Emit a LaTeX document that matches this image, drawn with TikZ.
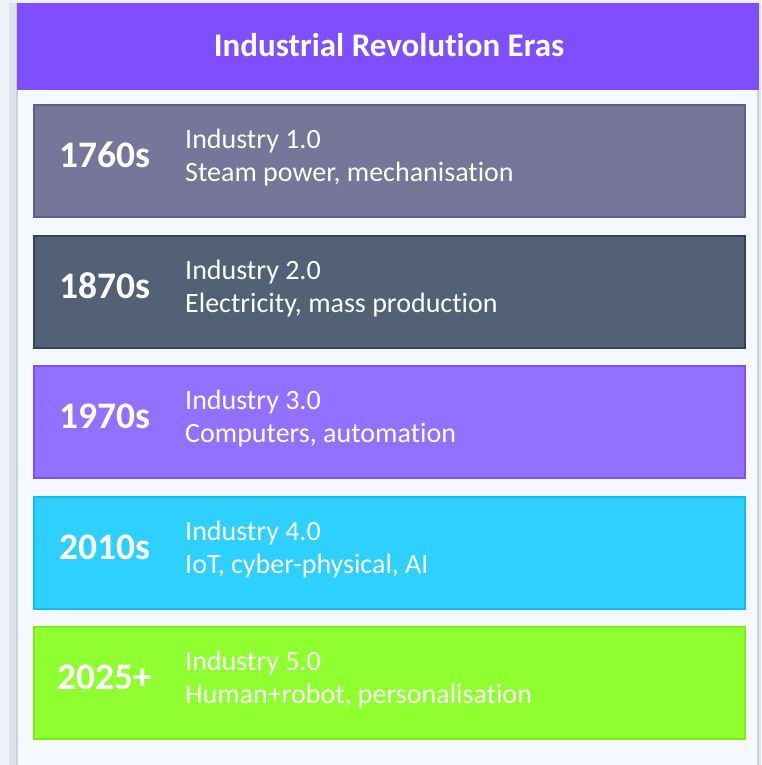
\documentclass[tikz,border=0pt]{standalone}
\usepackage{fontspec}
\setmainfont{Carlito}[Ligatures=NoCommon]
\definecolor{shadowA}{HTML}{EEF1F8}
\definecolor{shadowB}{HTML}{DDE2EE}
\definecolor{panelline}{HTML}{C8D0E2}
\definecolor{panelbg}{HTML}{F5F8FF}
\definecolor{headbg}{HTML}{7F4FFF}
\definecolor{fillA}{HTML}{77759A}\definecolor{lineA}{HTML}{5F5D8A}
\definecolor{fillB}{HTML}{526175}\definecolor{lineB}{HTML}{344458}
\definecolor{fillC}{HTML}{9370FF}\definecolor{lineC}{HTML}{7F4FFF}
\definecolor{fillD}{HTML}{2DD0FF}\definecolor{lineD}{HTML}{10BFF0}
\definecolor{fillE}{HTML}{8FFF2F}\definecolor{lineE}{HTML}{78F010}
\tikzset{
  erabox/.style={draw=#1, line width=2pt, minimum width=711pt, minimum height=112pt, anchor=north west, inner sep=0pt},
  yeartext/.style={text=white, font=\fontsize{37.5}{42}\selectfont\bfseries, anchor=center},
  desctext/.style={text=white, font=\fontsize{28}{33}\selectfont, anchor=west, align=left, inner sep=0pt},
}
\begin{document}
\begin{tikzpicture}[x=1pt,y=-1pt]
\useasboundingbox (0,0) rectangle (761,765);
\fill[shadowA] (0,0) rectangle (761,765);
\fill[shadowB] (9,3) rectangle (761,765);
\fill[panelline] (16,3) rectangle (759,765);
\fill[panelbg] (18,3) rectangle (757,765);
\node[fill=headbg, minimum width=742pt, minimum height=87pt, anchor=north west, inner sep=0pt] (head) at (17,3) {};
\node[text=white, font=\fontsize{33}{38}\selectfont\bfseries] (title) at (389,45) {Industrial Revolution Eras};

\node[erabox=lineA, fill=fillA] (b1) at (33,104) {};
\node[erabox=lineB, fill=fillB] (b2) at (33,235) {};
\node[erabox=lineC, fill=fillC] (b3) at (33,365) {};
\node[erabox=lineD, fill=fillD] (b4) at (33,496) {};
\node[erabox=lineE, fill=fillE] (b5) at (33,626) {};

\node[yeartext] (y1) at (105,155) {1760s};
\node[yeartext] (y2) at (105,286) {1870s};
\node[yeartext] (y3) at (105,416) {1970s};
\node[yeartext] (y4) at (105,547) {2010s};
\node[yeartext] (y5) at (105,677) {2025+};

\node[desctext] (d1) at (185,158) {Industry 1.0\\Steam power, mechanisation};
\node[desctext] (d2) at (185,289) {Industry 2.0\\Electricity, mass production};
\node[desctext] (d3) at (185,419) {Industry 3.0\\Computers, automation};
\node[desctext] (d4) at (185,550) {Industry 4.0\\IoT, cyber-physical, AI};
\node[desctext] (d5) at (185,680) {Industry 5.0\\Human+robot, personalisation};
\end{tikzpicture}
\end{document}
